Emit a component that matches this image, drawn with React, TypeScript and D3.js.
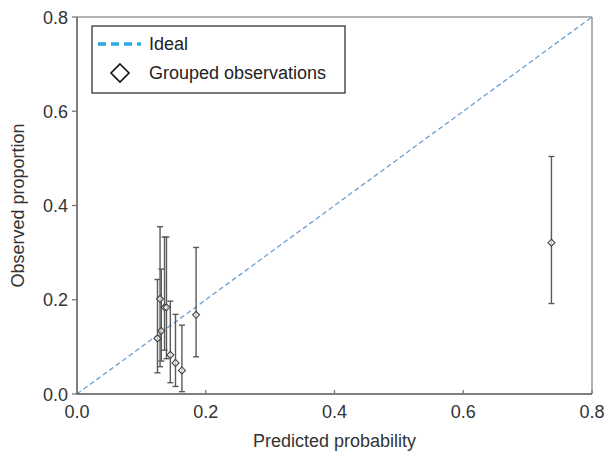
import React from 'react';
import * as d3 from 'd3';

// grouped observations: predicted probability, observed proportion, CI
const predicted = [0.125, 0.129, 0.131, 0.136, 0.139, 0.145, 0.153, 0.163, 0.185, 0.737];
const observed = [0.118, 0.202, 0.134, 0.184, 0.184, 0.083, 0.066, 0.05, 0.168, 0.321];
const lower = [0.045, 0.058, 0.07, 0.093, 0.075, 0.024, 0.016, 0.005, 0.079, 0.192];
const upper = [0.243, 0.355, 0.265, 0.333, 0.333, 0.197, 0.169, 0.146, 0.311, 0.504];

const xTicks = [0, 0.2, 0.4, 0.6, 0.8];
const yTicks = [0, 0.2, 0.4, 0.6, 0.8];

const width = 606;
const height = 455;
const margin = { top: 17, right: 14, bottom: 61, left: 77 };

const diamond = (cx: number, cy: number, r: number) =>
  `M${cx},${cy - r}L${cx + r},${cy}L${cx},${cy + r}L${cx - r},${cy}Z`;

const App = () => {
  const x = d3.scaleLinear().domain([0, 0.8]).range([margin.left, width - margin.right]);
  const y = d3.scaleLinear().domain([0, 0.8]).range([height - margin.bottom, margin.top]);
  const font = 'Liberation Sans, Arial, sans-serif';
  const x0 = x(0), x1 = x(0.8), y0 = y(0), y1 = y(0.8);

  return (
    <svg width={width} height={height} style={{ position: 'absolute', left: 0, top: 0 }} fontFamily={font}>
      <rect x={0} y={0} width={width} height={height} fill="#fff" />
      {/* frame */}
      <line x1={x0} x2={x1} y1={y1} y2={y1} stroke="#9a9a9a" strokeWidth={1.5} />
      <line x1={x1} x2={x1} y1={y1} y2={y0} stroke="#9a9a9a" strokeWidth={1.5} />

      {/* ideal line */}
      <line x1={x(0)} y1={y(0)} x2={x(0.8)} y2={y(0.8)} stroke="#6a9fd4" strokeWidth={1.3} strokeDasharray="5,3" />

      {/* error bars */}
      {predicted.map((p, i) => (
        <g key={i} stroke="#5a5a5a" strokeWidth={1.4}>
          <line x1={x(p)} x2={x(p)} y1={y(lower[i])} y2={y(upper[i])} />
          <line x1={x(p) - 3} x2={x(p) + 3} y1={y(lower[i])} y2={y(lower[i])} />
          <line x1={x(p) - 3} x2={x(p) + 3} y1={y(upper[i])} y2={y(upper[i])} />
        </g>
      ))}
      {predicted.map((p, i) => (
        <path key={i} d={diamond(x(p), y(observed[i]), 3.5)} fill="#fff" fillOpacity={0.6} stroke="#444" strokeWidth={1.1} />
      ))}

      {/* axes */}
      <line x1={x0} x2={x0} y1={y1} y2={y0} stroke="#555" strokeWidth={1.5} />
      <line x1={x0} x2={x1} y1={y0} y2={y0} stroke="#555" strokeWidth={1.5} />
      {xTicks.map(t => (
        <g key={t}>
          <line x1={x(t)} x2={x(t)} y1={y0} y2={y0 - 4} stroke="#777" strokeWidth={1.3} />
          <text x={x(t)} y={y0 + 24} textAnchor="middle" fontSize={18} fill="#333">{t.toFixed(1)}</text>
        </g>
      ))}
      {yTicks.map(t => (
        <g key={t}>
          <line x1={x0 - 5} x2={x0} y1={y(t)} y2={y(t)} stroke="#777" strokeWidth={1.3} />
          <text x={x0 - 9} y={y(t) + 6.5} textAnchor="end" fontSize={18} fill="#333">{t.toFixed(1)}</text>
        </g>
      ))}
      <text x={(x0 + x1) / 2} y={447} textAnchor="middle" fontSize={18} fill="#333">Predicted probability</text>
      <text transform={`translate(24,${(y0 + y1) / 2}) rotate(-90)`} textAnchor="middle" fontSize={18} fill="#333">Observed proportion</text>

      {/* legend */}
      <rect x={92} y={26} width={253} height={67} fill="#fff" stroke="#333" strokeWidth={1.3} />
      <line x1={98} x2={141} y1={44} y2={44} stroke="#29abe2" strokeWidth={3.5} strokeDasharray="8,5" />
      <text x={149} y={50} fontSize={18} fill="#222">Ideal</text>
      <path d={diamond(120, 73, 9)} fill="#fff" stroke="#111" strokeWidth={1.6} />
      <text x={149} y={79} fontSize={18} fill="#222">Grouped observations</text>
    </svg>
  );
};

export default App;
